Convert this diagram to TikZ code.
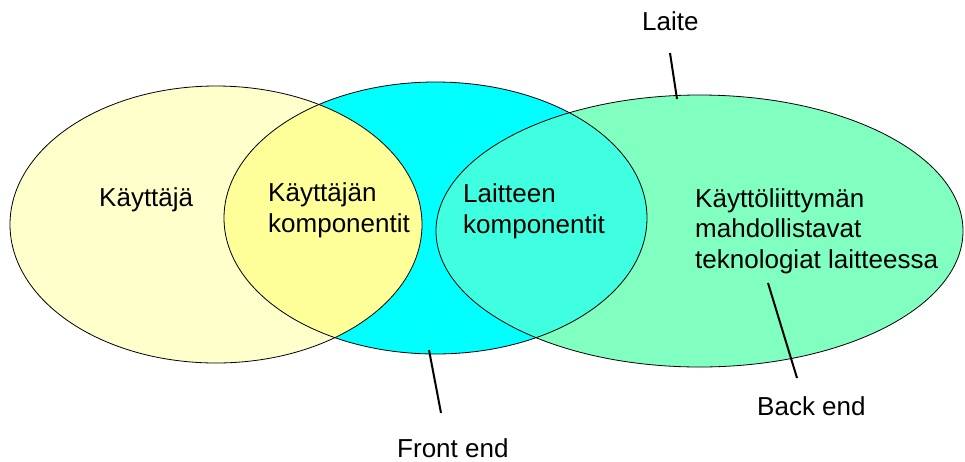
\documentclass[tikz,border=0pt]{standalone}
\usepackage{fontspec}
\setmainfont{Liberation Sans}
\begin{document}
\begin{tikzpicture}[x=1pt, y=-1pt,
  set/.style={draw=black, line width=0.8pt},
  lbl/.style={inner sep=0pt, anchor=base west, align=left,
              font=\fontsize{26}{30.5}\selectfont},
  pointer/.style={draw=black, line width=2pt}]
\definecolor{userfill}{RGB}{255,255,204}
\definecolor{userpart}{RGB}{255,255,153}
\definecolor{frontfill}{RGB}{0,255,255}
\definecolor{devicepart}{RGB}{64,255,224}
\definecolor{devicefill}{RGB}{128,255,192}
\useasboundingbox (0,0) rectangle (965,461);
\fill[white] (0,0) rectangle (965,461);

% centres of the three sets
\coordinate (cu) at (216,224.5);
\coordinate (cf) at (435.5,218);
\coordinate (cd) at (699.5,231);

% fills
\fill[userfill] (cu) ellipse [x radius=206pt, y radius=138.5pt];
\fill[frontfill] (cf) ellipse [x radius=211.5pt, y radius=136pt];
\fill[devicefill] (cd) ellipse [x radius=263.5pt, y radius=136pt];
\begin{scope}
  \clip (cu) ellipse [x radius=206pt, y radius=138.5pt];
  \fill[userpart] (cf) ellipse [x radius=211.5pt, y radius=136pt];
\end{scope}
\begin{scope}
  \clip (cd) ellipse [x radius=263.5pt, y radius=136pt];
  \fill[devicepart] (cf) ellipse [x radius=211.5pt, y radius=136pt];
\end{scope}

% outlines
\draw[set] (cu) ellipse [x radius=206pt, y radius=138.5pt];
\draw[set] (cf) ellipse [x radius=211.5pt, y radius=136pt];
\draw[set] (cd) ellipse [x radius=263.5pt, y radius=136pt];

% texts inside the sets (base anchor sits on the last line)
\node[lbl] (user) at (99,206) {Käyttäjä};
\node[lbl] (userc) at (268,232) {Käyttäjän\\komponentit};
\node[lbl] (devc) at (463,233) {Laitteen\\komponentit};
\node[lbl] (tech) at (695,268) {Käyttöliittymän\\mahdollistavat\\teknologiat laitteessa};

% outer labels
\node[lbl] (laite) at (642,30) {Laite};
\node[lbl] (front) at (397,457) {Front end};
\node[lbl] (back) at (757,415) {Back end};

% pointer lines
\coordinate (laiteA) at (670,53);
\coordinate (laiteB) at (677,99);
\coordinate (frontA) at (429,350);
\coordinate (frontB) at (441,413);
\coordinate (backA) at (768,283);
\coordinate (backB) at (797,378);
\draw[pointer] (laiteA) -- (laiteB);
\draw[pointer] (frontA) -- (frontB);
\draw[pointer] (backA) -- (backB);
\end{tikzpicture}
\end{document}
